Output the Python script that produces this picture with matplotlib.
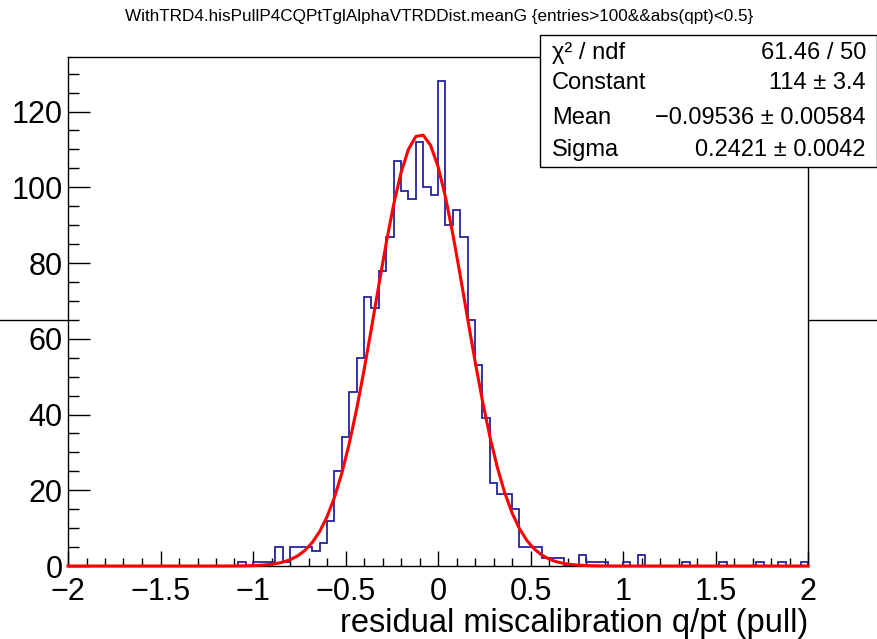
import numpy as np
import matplotlib
matplotlib.use('Agg')
import matplotlib.pyplot as plt
from matplotlib.patches import Rectangle
from matplotlib.lines import Line2D
from matplotlib.ticker import MultipleLocator

plt.rcParams['font.family'] = ['Liberation Sans', 'DejaVu Sans']

# histogram: 100 bins from -2 to 2
x_min, x_max, n_bins = -2.0, 2.0, 100
counts = [0] * 23 + [
    1, 0, 1, 1, 1, 5, 1, 5, 5, 5,            # bins 23-32
    4, 6, 12, 25, 34, 46, 55, 71, 68, 78,    # bins 33-42
    87, 107, 99, 97, 112, 100, 98, 128, 90, 94,  # bins 43-52
    87, 65, 53, 39, 22, 19, 19, 15, 5, 5,    # bins 53-62
    5, 2, 2, 2, 0, 0, 3, 1, 1, 1,            # bins 63-72
    0, 0, 1, 0, 3, 0, 0, 0, 0, 0,            # bins 73-82
    1, 0, 0, 0, 0, 1, 0, 0, 0, 0,            # bins 83-92
    1, 0, 0, 1, 0, 0, 1,                     # bins 93-99
]

# gaussian fit results
fit_const = 114.0
fit_mean = -0.09536
fit_sigma = 0.2421

stat_labels = ['\u03c7\u00b2 / ndf', 'Constant', 'Mean', 'Sigma']
stat_values = ['61.46 / 50', '114 \u00b1 3.4',
               '\u22120.09536 \u00b1 0.00584', '0.2421 \u00b1 0.0042']

title = 'WithTRD4.hisPullP4CQPtTglAlphaVTRDDist.meanG {entries>100&&abs(qpt)<0.5}'
x_label = 'residual miscalibration q/pt (pull)'

W, H = 878, 639
fig = plt.figure(figsize=(W / 100, H / 100), dpi=100)

# stray horizontal line behind the pad
fig.add_artist(Line2D([0, 1], [1 - 320 / H, 1 - 320 / H], color='black', lw=1, zorder=0))

ax = fig.add_axes([68 / W, 73 / H, 740 / W, 509 / H])
ax.set_facecolor('white')

edges = np.linspace(x_min, x_max, n_bins + 1)
ax.stairs(counts, edges, color='#2424a0', lw=1.3, zorder=3)

xf = np.linspace(x_min, x_max, 101)
yf = fit_const * np.exp(-0.5 * ((xf - fit_mean) / fit_sigma) ** 2)
ax.plot(xf, yf, color='#ff0000', lw=2.2, zorder=4, clip_on=False)

ax.set_xlim(x_min, x_max)
ax.set_ylim(0, 1.05 * max(counts))

ax.xaxis.set_major_locator(MultipleLocator(0.5))
ax.xaxis.set_minor_locator(MultipleLocator(0.1))
ax.yaxis.set_major_locator(MultipleLocator(20))
ax.yaxis.set_minor_locator(MultipleLocator(5))
ax.tick_params(axis='x', which='major', direction='in', length=11, width=1, labelsize=22, pad=8)
ax.tick_params(axis='x', which='minor', direction='in', length=5.5, width=1)
ax.tick_params(axis='y', which='major', direction='in', length=16, width=1, labelsize=22, pad=4)
ax.tick_params(axis='y', which='minor', direction='in', length=8, width=1)
for s in ax.spines.values():
    s.set_linewidth(1)

def fmt(v, pos):
    s = ('%g' % v)
    return s.replace('-', '\u2212')
ax.xaxis.set_major_formatter(plt.FuncFormatter(fmt))

fig.text(808 / W, 1 - 632 / H, x_label, ha='right', va='baseline', fontsize=23.5)
fig.text(0.5, 1 - 17 / H, title, ha='center', va='center', fontsize=12.3)

# stats box
bx0, by0, bx1, by1 = 540, 35, 877, 167
fig.add_artist(Rectangle((bx0 / W, 1 - by1 / H), (bx1 - bx0) / W, (by1 - by0) / H,
                         transform=fig.transFigure, facecolor='white',
                         edgecolor='black', lw=1, zorder=10))
row_base = [59, 89, 123.5, 156]
for lab, val, yb in zip(stat_labels, stat_values, row_base):
    fig.text(552 / W, 1 - yb / H, lab, ha='left', va='baseline', fontsize=17, zorder=11)
    fig.text(866 / W, 1 - yb / H, val, ha='right', va='baseline', fontsize=17, zorder=11)

fig.savefig('out.png', dpi=100)
